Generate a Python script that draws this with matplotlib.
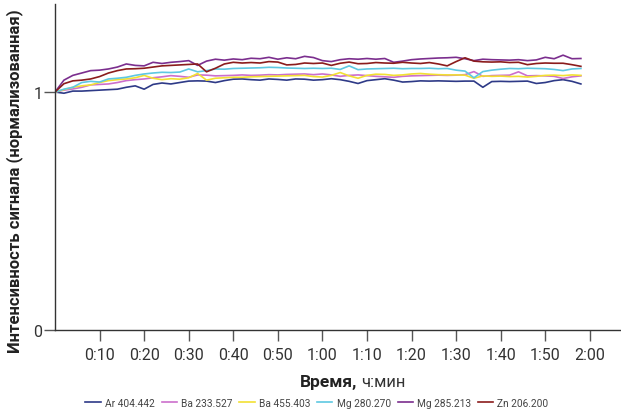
import matplotlib
matplotlib.use("Agg")
import matplotlib.pyplot as plt
import numpy as np

plt.rcParams['font.family'] = ['Roboto', 'DejaVu Sans']

time_min = list(range(0, 120, 2))

series_names = ["Ar 404.442", "Ba 233.527", "Ba 455.403", "Mg 280.270", "Mg 285.213", "Zn 206.200"]
colors = ["#2E3A87", "#CC6FCC", "#F2E033", "#5EC8E2", "#7B2E8E", "#8B1C1C"]

ar_404 = [1.000, 0.995, 1.004, 1.004, 1.006, 1.008, 1.010, 1.012, 1.020, 1.026,
          1.012, 1.032, 1.038, 1.034, 1.040, 1.046, 1.047, 1.046, 1.040, 1.048,
          1.054, 1.055, 1.052, 1.050, 1.055, 1.053, 1.050, 1.055, 1.054, 1.050,
          1.052, 1.056, 1.052, 1.045, 1.036, 1.048, 1.052, 1.056, 1.050, 1.042,
          1.044, 1.047, 1.046, 1.047, 1.046, 1.045, 1.046, 1.046, 1.020, 1.044,
          1.045, 1.044, 1.045, 1.046, 1.036, 1.040, 1.048, 1.052, 1.045, 1.034]
ba_233 = [1.000, 1.008, 1.013, 1.020, 1.030, 1.032, 1.034, 1.040, 1.048, 1.052,
          1.055, 1.060, 1.064, 1.069, 1.066, 1.062, 1.072, 1.071, 1.068, 1.069,
          1.070, 1.072, 1.070, 1.071, 1.073, 1.072, 1.074, 1.075, 1.076, 1.073,
          1.076, 1.072, 1.066, 1.070, 1.072, 1.069, 1.066, 1.064, 1.062, 1.066,
          1.068, 1.069, 1.070, 1.071, 1.070, 1.071, 1.073, 1.086, 1.066, 1.069,
          1.070, 1.071, 1.085, 1.068, 1.069, 1.068, 1.066, 1.057, 1.064, 1.068]
ba_455 = [1.000, 1.010, 1.020, 1.026, 1.030, 1.040, 1.048, 1.052, 1.055, 1.060,
          1.070, 1.058, 1.052, 1.056, 1.054, 1.060, 1.078, 1.050, 1.058, 1.060,
          1.062, 1.062, 1.064, 1.065, 1.066, 1.067, 1.068, 1.069, 1.070, 1.065,
          1.063, 1.070, 1.082, 1.068, 1.058, 1.070, 1.075, 1.074, 1.070, 1.072,
          1.076, 1.078, 1.075, 1.073, 1.072, 1.072, 1.071, 1.058, 1.068, 1.066,
          1.067, 1.065, 1.066, 1.063, 1.066, 1.070, 1.071, 1.069, 1.072, 1.070]
mg_280 = [1.000, 1.012, 1.020, 1.040, 1.045, 1.042, 1.055, 1.058, 1.062, 1.070,
          1.076, 1.080, 1.083, 1.082, 1.084, 1.097, 1.085, 1.090, 1.097, 1.096,
          1.099, 1.100, 1.101, 1.102, 1.104, 1.103, 1.101, 1.100, 1.099, 1.100,
          1.099, 1.100, 1.095, 1.110, 1.094, 1.097, 1.098, 1.099, 1.100, 1.098,
          1.099, 1.099, 1.100, 1.098, 1.099, 1.092, 1.088, 1.060, 1.086, 1.092,
          1.096, 1.099, 1.098, 1.100, 1.099, 1.098, 1.095, 1.090, 1.097, 1.099]
mg_285 = [1.000, 1.050, 1.070, 1.080, 1.090, 1.092, 1.097, 1.105, 1.118, 1.112,
          1.110, 1.125, 1.120, 1.125, 1.128, 1.132, 1.112, 1.130, 1.138, 1.134,
          1.139, 1.136, 1.142, 1.140, 1.146, 1.138, 1.144, 1.140, 1.150, 1.145,
          1.132, 1.128, 1.136, 1.140, 1.138, 1.141, 1.138, 1.141, 1.125, 1.130,
          1.136, 1.139, 1.141, 1.143, 1.144, 1.146, 1.140, 1.132, 1.138, 1.136,
          1.135, 1.134, 1.136, 1.132, 1.135, 1.146, 1.140, 1.155, 1.140, 1.141]
zn_206 = [1.000, 1.035, 1.047, 1.050, 1.055, 1.065, 1.080, 1.090, 1.097, 1.098,
          1.100, 1.105, 1.110, 1.112, 1.114, 1.116, 1.118, 1.085, 1.100, 1.118,
          1.125, 1.122, 1.124, 1.122, 1.128, 1.126, 1.114, 1.116, 1.122, 1.120,
          1.122, 1.112, 1.121, 1.126, 1.119, 1.120, 1.124, 1.122, 1.121, 1.125,
          1.122, 1.120, 1.124, 1.118, 1.110, 1.128, 1.144, 1.130, 1.127, 1.126,
          1.127, 1.124, 1.125, 1.115, 1.120, 1.122, 1.121, 1.121, 1.115, 1.108]

all_series = [ar_404, ba_233, ba_455, mg_280, mg_285, zn_206]

tick_pos = [10, 20, 30, 40, 50, 60, 70, 80, 90, 100, 110, 120]
tick_labels = ["0:10", "0:20", "0:30", "0:40", "0:50", "1:00", "1:10", "1:20", "1:30", "1:40", "1:50", "2:00"]

fig = plt.figure(figsize=(6.21, 4.10), dpi=100)
ax = fig.add_axes([55/621, 79/410, 566/621, 326/410])

for name, vals, c in zip(series_names, all_series, colors):
    ax.plot(time_min, vals, color=c, lw=1.2, label=name)

ax.set_xlim(0, 127)
ax.set_ylim(0, 1.37)
ax.set_xticks(tick_pos)
ax.set_xticklabels(tick_labels)
ax.set_yticks([0, 1])
ax.set_yticklabels(["0", "1"])
for s in ["top", "right"]:
    ax.spines[s].set_visible(False)
for s in ["left", "bottom"]:
    ax.spines[s].set_color("#333333")
    ax.spines[s].set_linewidth(1.0)
ax.tick_params(axis="x", length=8, width=1, color="#555555", labelsize=11.5, labelcolor="#333333", pad=4)
ax.tick_params(axis="y", length=8, width=1, color="#555555", labelsize=11.5, labelcolor="#333333", pad=1)

ax.set_ylabel("Интенсивность сигнала (нормализованная)", fontsize=12.0, fontweight="bold", color="#222222")
ax.yaxis.set_label_coords(-0.057, 0.46)

fig.text(357/621, 1 - 383/410, "Время,", ha="right", va="center", fontsize=12.5, fontweight="bold", color="#222222")
fig.text(361/621, 1 - 383/410, "ч:мин", ha="left", va="center", fontsize=12, color="#333333")

leg = fig.legend(loc="center", bbox_to_anchor=(317/621, 1 - 404/410), ncol=6, frameon=False,
                 fontsize=7.3, handlelength=1.5, handletextpad=0.4, columnspacing=0.7,
                 labelcolor="#444444")

fig.savefig("out.png", dpi=100)
